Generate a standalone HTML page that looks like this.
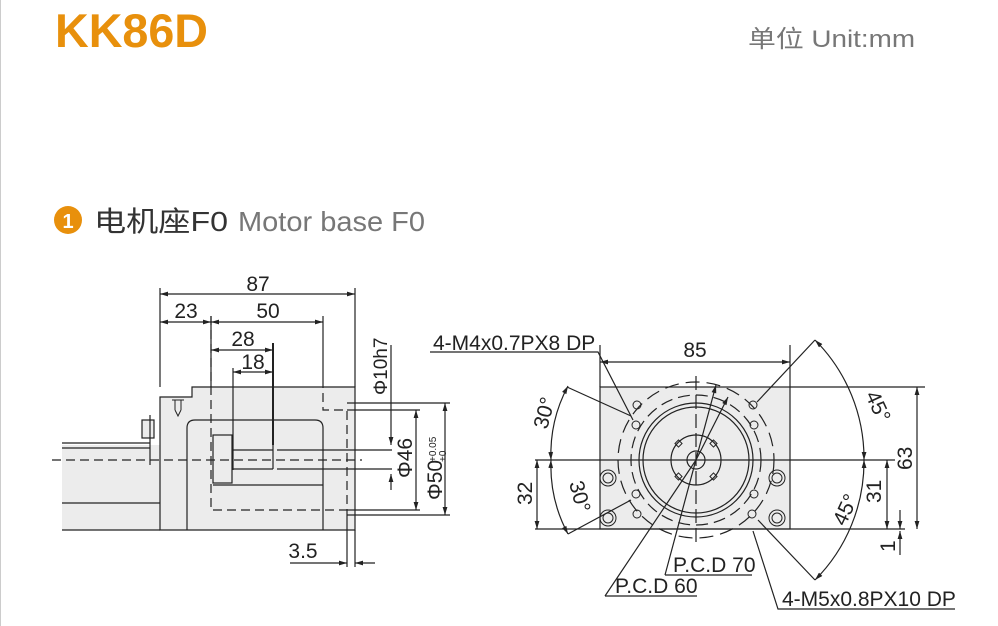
<!DOCTYPE html>
<html><head><meta charset="utf-8"><style>
html,body{margin:0;padding:0;background:#fff;width:998px;height:626px;overflow:hidden}
svg{display:block}
</style></head><body>
<svg width="998" height="626" viewBox="0 0 998 626" xmlns="http://www.w3.org/2000/svg" font-family="Liberation Sans, DejaVu Sans, sans-serif">
<defs>
<marker id="a" viewBox="0 0 10 6" refX="10" refY="3" markerWidth="7" markerHeight="4" orient="auto-start-reverse"><path d="M0,0L10,3L0,6z" fill="#222"/></marker>
</defs>
<line x1="0.5" y1="0" x2="0.5" y2="626" stroke="#ccc"/>
<text x="55" y="47" font-size="47" font-weight="bold" fill="#e8900c" textLength="153" lengthAdjust="spacingAndGlyphs">KK86D</text>
<text x="748" y="47" font-size="24" fill="#777" font-family="Liberation Sans, Noto Sans CJK SC, sans-serif" textLength="167" lengthAdjust="spacingAndGlyphs">单位 Unit:mm</text>
<circle cx="68" cy="220" r="14" fill="#e8900c"/>
<text x="68" y="228" font-size="20" font-weight="bold" fill="#fff" text-anchor="middle">1</text>
<text x="94" y="231" font-size="28" fill="#333" font-family="Liberation Sans, Noto Sans CJK SC, sans-serif" textLength="134" lengthAdjust="spacingAndGlyphs">电机座F0</text>
<text x="238" y="231" font-size="28" fill="#777" textLength="187" lengthAdjust="spacingAndGlyphs">Motor base F0</text>

<g stroke="#222" stroke-width="1.2" fill="none">
<rect x="62" y="445" width="98" height="85" fill="#ececec" stroke="none"/>
<line x1="62" y1="443" x2="150" y2="443"/><line x1="62" y1="448" x2="150" y2="448"/>
<line x1="62" y1="503" x2="160" y2="503"/><line x1="62" y1="530" x2="160" y2="530"/>
<rect x="142" y="420" width="12" height="18" fill="#ececec"/>
<line x1="150" y1="415" x2="150" y2="465"/>
<path d="M160,530 V397 H192 V387 H355 V530 Z" fill="#ececec"/>
<path d="M187,530 V428 Q187,420 195,420 H315 Q323,420 323,428 V530"/>
<rect x="213" y="435" width="19" height="48"/>
<line x1="213" y1="485" x2="323" y2="485"/>
<line x1="232" y1="450" x2="273" y2="450"/><line x1="232" y1="469" x2="273" y2="469"/>
<line x1="273" y1="445" x2="273" y2="469"/>
<line x1="277" y1="450" x2="392" y2="450"/><line x1="277" y1="469" x2="392" y2="469"/>
<path d="M175,400 v10 M181,400 v10 M172,400 h12 M175,410 l3,6 l3,-6" stroke-width="1"/>
<g stroke-dasharray="9,5">
<path d="M211,316 V510 H347 V410 H323 V387"/>
<line x1="52" y1="460" x2="362" y2="460"/>
</g>
<line x1="160" y1="288" x2="160" y2="387"/><line x1="355" y1="288" x2="355" y2="387"/>
<line x1="211" y1="316" x2="211" y2="387"/><line x1="323" y1="316" x2="323" y2="387"/>
<line x1="233" y1="368" x2="233" y2="470"/><line x1="273" y1="343" x2="273" y2="445" stroke-width="2"/>
<line x1="347" y1="403" x2="450" y2="403"/><line x1="347" y1="515" x2="450" y2="515"/>
<line x1="347" y1="410" x2="420" y2="410"/><line x1="347" y1="510" x2="420" y2="510"/>
<line x1="347" y1="510" x2="347" y2="567"/><line x1="355" y1="530" x2="355" y2="567"/>
<g marker-start="url(#a)" marker-end="url(#a)">
<line x1="160" y1="294" x2="355" y2="294"/>
<line x1="160" y1="322" x2="211" y2="322"/><line x1="211" y1="322" x2="323" y2="322"/>
<line x1="211" y1="350" x2="273" y2="350"/><line x1="233" y1="372" x2="273" y2="372"/>
<line x1="416" y1="410" x2="416" y2="510"/><line x1="445" y1="403" x2="445" y2="515"/>
</g>
<line x1="391" y1="345" x2="391" y2="445" marker-end="url(#a)"/>
<line x1="391" y1="490" x2="391" y2="474" marker-end="url(#a)"/>
<line x1="290" y1="563" x2="347" y2="563" marker-end="url(#a)"/>
<line x1="375" y1="563" x2="355" y2="563" marker-end="url(#a)"/>

<rect x="600" y="387" width="190" height="142" fill="#ececec"/>
<circle cx="696" cy="460" r="57"/><circle cx="696" cy="460" r="53"/>
<circle cx="696" cy="460" r="25"/><circle cx="696" cy="460" r="9"/>
<g stroke-width="1">
<rect x="676" y="441" width="5" height="5" transform="rotate(45 678.5 443.5)"/>
<rect x="711" y="441" width="5" height="5" transform="rotate(45 713.5 443.5)"/>
<rect x="676" y="474" width="5" height="5" transform="rotate(45 678.5 476.5)"/>
<rect x="711" y="474" width="5" height="5" transform="rotate(45 713.5 476.5)"/>
</g>
<circle cx="696" cy="460" r="65" stroke-dasharray="12,6"/>
<circle cx="696" cy="460" r="78" stroke-dasharray="14,7"/>
<line x1="696" y1="376" x2="696" y2="545" stroke-dasharray="14,5"/>
<line x1="535" y1="460" x2="895" y2="460"/>
<line x1="535" y1="529" x2="905" y2="529"/>
<line x1="790" y1="387" x2="925" y2="387"/>
<line x1="600" y1="345" x2="600" y2="387"/><line x1="790" y1="345" x2="790" y2="387"/>
<g stroke-width="1">
<circle cx="608" cy="478" r="8"/><circle cx="608" cy="478" r="5"/>
<circle cx="777" cy="478" r="8"/><circle cx="777" cy="478" r="5"/>
<circle cx="608" cy="518" r="8"/><circle cx="608" cy="518" r="5"/>
<circle cx="777" cy="518" r="8"/><circle cx="777" cy="518" r="5"/>
<circle cx="637" cy="405" r="4"/><circle cx="753" cy="405" r="4"/>
<circle cx="636" cy="425" r="4"/><circle cx="754" cy="425" r="4"/>
<circle cx="636" cy="494" r="4"/><circle cx="754" cy="494" r="4"/>
<circle cx="637" cy="514" r="4"/><circle cx="752" cy="514" r="4"/>
</g>
<g marker-start="url(#a)" marker-end="url(#a)">
<line x1="600" y1="362" x2="790" y2="362"/>
<line x1="917" y1="387" x2="917" y2="529"/>
<line x1="887" y1="460" x2="887" y2="529"/>
<line x1="537" y1="460" x2="537" y2="529"/>
<path d="M568,386 A144,144 0 0 0 551,460"/>
<path d="M551,460 A144,144 0 0 0 568,534"/>
<path d="M815,340 A168,168 0 0 1 864,460"/>
<path d="M864,460 A168,168 0 0 1 815,580"/>
</g>
<line x1="900" y1="510" x2="900" y2="529" marker-end="url(#a)"/>
<line x1="900" y1="555" x2="900" y2="531" marker-end="url(#a)"/>
<polyline points="430,352 598,352 633,420"/>
<line x1="567" y1="387" x2="631" y2="416"/>
<line x1="815" y1="340" x2="757" y2="402"/>
<line x1="568" y1="534" x2="631" y2="500"/>
<line x1="815" y1="580" x2="758" y2="520"/>
<polyline points="605,596 697,596"/><line x1="605" y1="596" x2="696" y2="460"/>
<polyline points="665,575 752,575"/><line x1="665" y1="575" x2="716" y2="385" marker-end="url(#a)"/>
<line x1="696" y1="460" x2="728" y2="397" marker-end="url(#a)"/>
<polyline points="955,609 778,609 753,531"/>
</g>
<g fill="#222" font-size="21" font-family="Liberation Sans Narrow, Liberation Sans, sans-serif">
<text x="258" y="291" text-anchor="middle">87</text>
<text x="186" y="318" text-anchor="middle">23</text>
<text x="268" y="318" text-anchor="middle">50</text>
<text x="243" y="346" text-anchor="middle">28</text>
<text x="253" y="369" text-anchor="middle">18</text>
<text x="303" y="558" text-anchor="middle">3.5</text>
<text transform="translate(387,395) rotate(-90)" font-size="19">Φ10h7</text>
<text transform="translate(412,478) rotate(-90)">Φ46</text>
<text transform="translate(442,500) rotate(-90)">Φ50</text>
<text transform="translate(436,462) rotate(-90)" font-size="10">+0.05</text>
<text transform="translate(446,462) rotate(-90)" font-size="10">+0</text>
<text x="433" y="350">4-M4x0.7PX8 DP</text>
<text x="695" y="357" text-anchor="middle">85</text>
<text transform="translate(912,470) rotate(-90)">63</text>
<text transform="translate(881,503) rotate(-90)">31</text>
<text transform="translate(532,505) rotate(-90)">32</text>
<text transform="translate(895,552) rotate(-90)">1</text>
<text transform="translate(547,430) rotate(-75)">30°</text>
<text transform="translate(569,483) rotate(75)">30°</text>
<text transform="translate(865,395) rotate(65)">45°</text>
<text transform="translate(845,527) rotate(-65)">45°</text>
<text x="673" y="572">P.C.D 70</text>
<text x="615" y="593">P.C.D 60</text>
<text x="782" y="606">4-M5x0.8PX10 DP</text>
</g>
</svg>
</body></html>
